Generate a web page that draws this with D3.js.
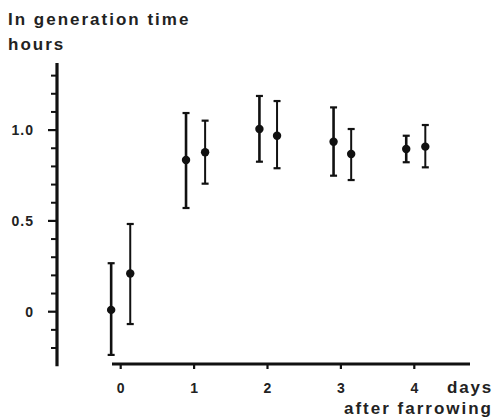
<!DOCTYPE html>
<html>
<head>
<meta charset="utf-8">
<script src="https://cdn.jsdelivr.net/npm/d3@7"></script>
<style>
  body { margin: 0; background: #fff; }
  text { font-family: "Liberation Sans", Arial, sans-serif; font-weight: bold; fill: #222; }
</style>
</head>
<body>
<script>
// days after farrowing (two groups per day, slightly offset)
var days = [-0.13, 0.13, 0.89, 1.15, 1.89, 2.13, 2.90, 3.14, 3.89, 4.15];
var means = [0.01, 0.21, 0.835, 0.878, 1.006, 0.969, 0.936, 0.868, 0.896, 0.909];
var upper = [0.267, 0.483, 1.094, 1.052, 1.188, 1.16, 1.125, 1.006, 0.969, 1.028];
var lower = [-0.238, -0.068, 0.571, 0.705, 0.826, 0.79, 0.749, 0.725, 0.823, 0.795];
var barWidths = [2.6, 2, 2.6, 2, 2.6, 2, 2.6, 2, 2.6, 2];

var xTicks = [0, 1, 2, 3, 4];
var yMajor = [0, 0.5, 1.0];
var yMinor = [-0.2, -0.1, 0.1, 0.2, 0.3, 0.4, 0.6, 0.7, 0.8, 0.9, 1.1, 1.2, 1.3];

var width = 494, height = 420;

var svg = d3.select('body').append('svg')
  .attr('width', width)
  .attr('height', height);

var x = d3.scaleLinear().domain([0, 4]).range([120.7, 414.3]);
var y = d3.scaleLinear().domain([0, 1]).range([311.7, 130.1]);

// y axis: heavy line, ticks pointing left
svg.append('line')
  .attr('x1', 57).attr('x2', 57)
  .attr('y1', y(1.37)).attr('y2', y(-0.3))
  .style('stroke', '#111').style('stroke-width', 3.2);

svg.selectAll('.minor').data(yMinor).enter().append('line')
  .attr('x1', 51).attr('x2', 57)
  .attr('y1', function(d) { return y(d); })
  .attr('y2', function(d) { return y(d); })
  .style('stroke', '#111').style('stroke-width', 2);

svg.selectAll('.major').data(yMajor).enter().append('line')
  .attr('x1', 48).attr('x2', 57)
  .attr('y1', function(d) { return y(d); })
  .attr('y2', function(d) { return y(d); })
  .style('stroke', '#111').style('stroke-width', 2.2);

svg.selectAll('.ylab').data(yMajor).enter().append('text')
  .attr('x', 34)
  .attr('y', function(d) { return y(d) + 5; })
  .attr('text-anchor', 'end')
  .style('font-size', '14px')
  .style('letter-spacing', '1px')
  .text(function(d) { return d === 0 ? '0' : d.toFixed(1); });

// x axis: separate line, starts right of y axis
svg.append('line')
  .attr('x1', 112).attr('x2', 470)
  .attr('y1', 364).attr('y2', 364)
  .style('stroke', '#111').style('stroke-width', 3.2);

svg.selectAll('.xtick').data(xTicks).enter().append('line')
  .attr('x1', function(d) { return x(d); })
  .attr('x2', function(d) { return x(d); })
  .attr('y1', 364).attr('y2', 369)
  .style('stroke', '#111').style('stroke-width', 2.2);

svg.selectAll('.xlab').data(xTicks).enter().append('text')
  .attr('x', function(d) { return x(d); })
  .attr('y', 393)
  .attr('text-anchor', 'middle')
  .style('font-size', '14px')
  .text(function(d) { return d; });

svg.append('text')
  .attr('x', 493).attr('y', 393)
  .attr('text-anchor', 'end')
  .style('font-size', '17px')
  .style('letter-spacing', '1.8px')
  .text('days');

svg.append('text')
  .attr('x', 493).attr('y', 414)
  .attr('text-anchor', 'end')
  .style('font-size', '17px')
  .style('letter-spacing', '2px')
  .text('after farrowing');

// y title
svg.append('text')
  .attr('x', 8).attr('y', 25)
  .style('font-size', '17px')
  .style('letter-spacing', '2px')
  .text('In generation time');

svg.append('text')
  .attr('x', 8).attr('y', 50)
  .style('font-size', '17px')
  .style('letter-spacing', '2px')
  .text('hours');

// error bars
var idx = d3.range(days.length);

svg.selectAll('.bar').data(idx).enter().append('line')
  .attr('x1', function(i) { return x(days[i]); })
  .attr('x2', function(i) { return x(days[i]); })
  .attr('y1', function(i) { return y(upper[i]); })
  .attr('y2', function(i) { return y(lower[i]); })
  .style('stroke', '#111')
  .style('stroke-width', function(i) { return barWidths[i]; });

[upper, lower].forEach(function(arr) {
  svg.selectAll(null).data(idx).enter().append('line')
    .attr('x1', function(i) { return x(days[i]) - 3.5; })
    .attr('x2', function(i) { return x(days[i]) + 3.5; })
    .attr('y1', function(i) { return y(arr[i]); })
    .attr('y2', function(i) { return y(arr[i]); })
    .style('stroke', '#111').style('stroke-width', 2.2);
});

svg.selectAll('.dot').data(idx).enter().append('circle')
  .attr('cx', function(i) { return x(days[i]); })
  .attr('cy', function(i) { return y(means[i]); })
  .attr('r', 4.2)
  .style('fill', '#111');
</script>
</body>
</html>
